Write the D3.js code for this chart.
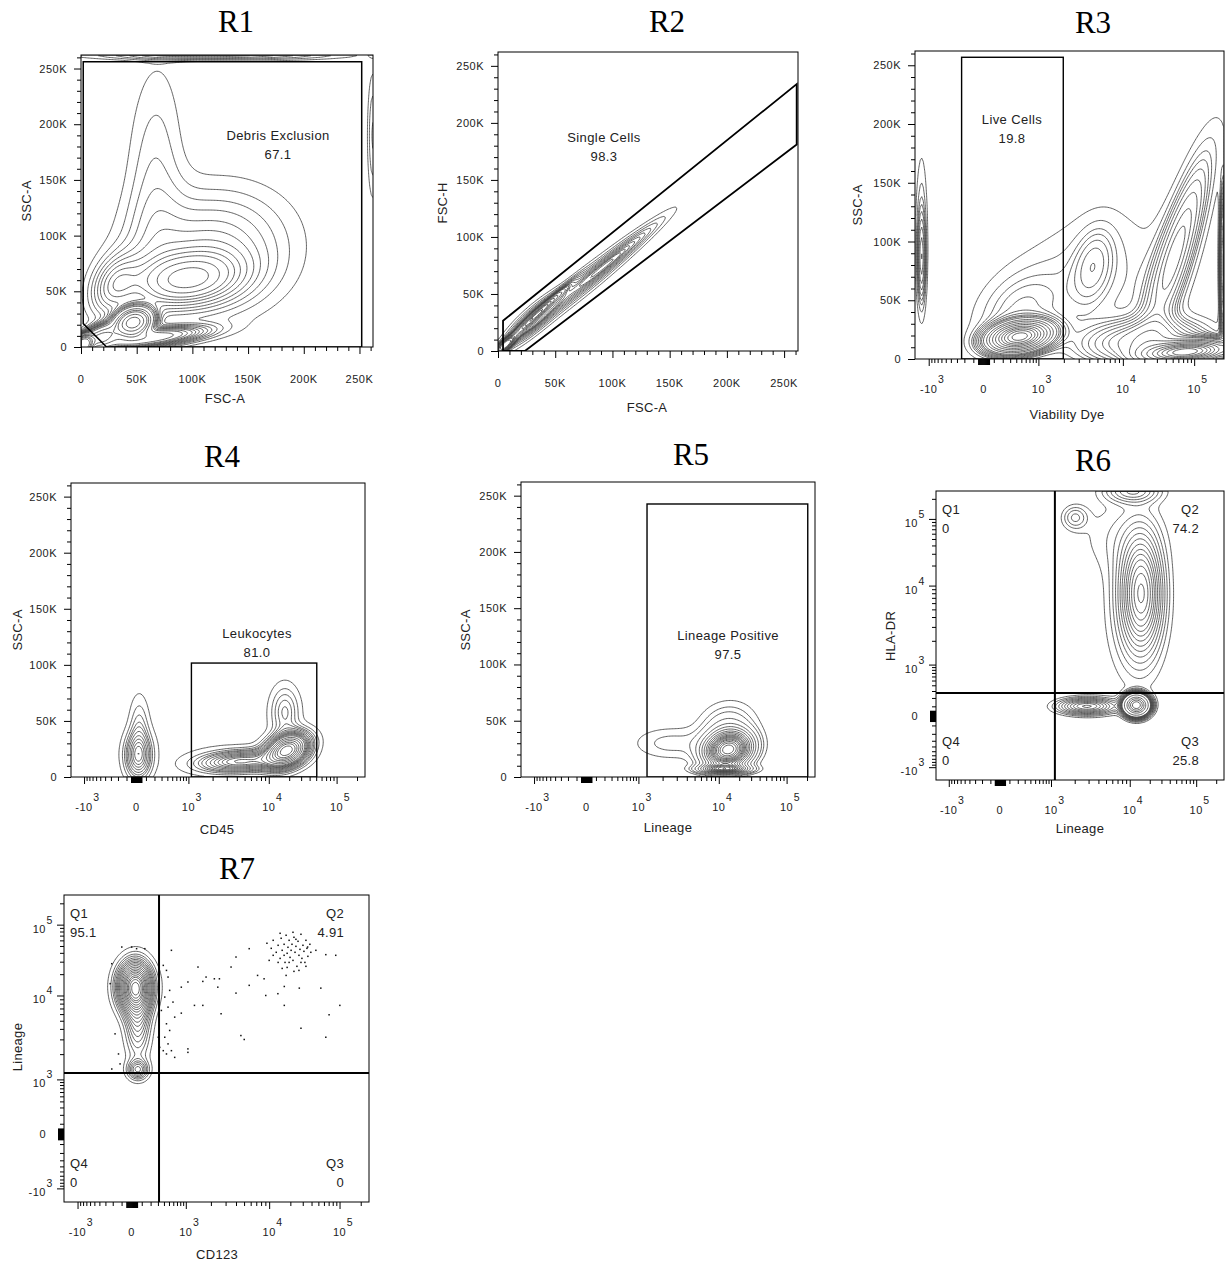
<!DOCTYPE html>
<html>
<head>
<meta charset="utf-8">
<script src="https://cdn.jsdelivr.net/npm/d3@7"></script>
<style>
  body { margin: 0; background: #fff; }
  svg { display: block; }
  text { font-family: "Liberation Sans", Arial, sans-serif; fill: #222; }
</style>
</head>
<body>
<svg id="fig" width="1225" height="1264"></svg>
<script>
// ---------- labels ----------
const panelTitles = ["R1", "R2", "R3", "R4", "R5", "R6", "R7"];
const xAxisTitles = ["FSC-A", "FSC-A", "Viability Dye", "CD45", "Lineage", "Lineage", "CD123"];
const yAxisTitles = ["SSC-A", "FSC-H", "SSC-A", "SSC-A", "SSC-A", "HLA-DR", "Lineage"];

const linearTickValues = [0, 50000, 100000, 150000, 200000, 250000];
const linearTickLabels = ["0", "50K", "100K", "150K", "200K", "250K"];
const biexTickValues = [-1000, 0, 1000, 10000, 100000];
const biexTickBases = ["-10", "0", "10", "10", "10"];
const biexTickExponents = ["3", "", "3", "4", "5"];

// ---------- populations: [x, y, spreadX, spreadY, correlation, weight] ----------
// spreads are in display units of each axis (values for linear, decades-ish for biex)
const r1Populations = [
  [47000, 22000, 9000, 7000, 0.2, 0.13],
  [2000, 2000, 4000, 4000, 0.3, 0.08],
  [18000, 9000, 11000, 7000, 0.5, 0.05],
  [60000, 8000, 30000, 6000, 0.6, 0.06],
  [95000, 60000, 32000, 16000, 0.2, 0.10],
  [30000, 55000, 14000, 18000, 0.3, 0.03],
  [115000, 85000, 48000, 38000, 0.1, 0.21],
  [66000, 150000, 18000, 75000, 0.1, 0.07],
  [120000, 262000, 70000, 3000, 0, 0.025],
  [262000, 190000, 3500, 40000, 0, 0.008]
];
const r2Populations = [
  [6000, 5000, 5000, 4500, 0.8, 0.12],
  [35000, 33000, 16000, 15000, 0.985, 0.15],
  [30000, 27000, 15000, 13900, 0.864, 0.22],
  [75000, 60000, 35000, 28900, 0.969, 0.41],
  [110000, 88000, 25000, 20500, 0.975, 0.10]
];
const r3Populations = [
  [466, 19000, 0.33, 7500, 0.25, 0.16],
  [400, 40000, 0.55, 25000, 0.3, 0.05],
  [4460, 80000, 0.25, 22000, 0.3, 0.02],
  [4460, 70000, 1.0, 45000, 0.2, 0.12],
  [78000, 6000, 0.45, 5500, 0.3, 0.16],
  [55000, 90000, 0.45, 60000, 0.85, 0.13],
  [258000, 80000, 0.04, 35000, 0, 0.035],
  [-1215, 110000, 0.08, 50000, 0, 0.012],
  [-1215, 85000, 0.05, 25000, 0, 0.008],
  [20000, 15000, 0.7, 12000, 0.2, 0.10]
];
const r4Populations = [
  [21, 19000, 0.16, 13000, 0, 0.10],
  [30, 45000, 0.12, 18000, 0, 0.03],
  [1350, 30000, 0.9, 18000, 0, 0.035],
  [18600, 24000, 0.25, 9000, 0.3, 0.36],
  [4500, 14000, 0.5, 6000, 0.2, 0.18],
  [17300, 58000, 0.18, 15000, 0, 0.06]
];
const r5Populations = [
  [13800, 24000, 0.28, 10000, 0.15, 0.55],
  [13300, 45000, 0.35, 14000, 0.1, 0.12],
  [2500, 30000, 0.5, 10000, 0, 0.07],
  [12000, 7000, 0.3, 2500, 0, 0.08]
];
const r6Populations = [
  [12600, 113, 0.13, 0.11, 0, 0.25],
  [15000, 8100, 0.25, 0.7, 0, 0.30],
  [12000, 5000, 0.4, 1.0, 0, 0.12],
  [2850, 100, 0.35, 0.1, 0, 0.05],
  [2020, 105000, 0.16, 0.15, 0, 0.01],
  [11000, 262000, 0.35, 0.15, 0, 0.04],
  [7000, 55000, 0.6, 0.5, 0, 0.05]
];
const r7Populations = [
  [31, 13300, 0.21, 0.3, 0, 0.6],
  [60, 5180, 0.16, 0.5, 0, 0.25],
  [60, 1300, 0.13, 0.12, 0, 0.05]
];

// R7 events drawn as dots outside the contours: [CD123, Lineage]
const r7Outliers = [
  [9400,54600],[10700,46300],[11400,60100],[12600,40700],[13400,51100],[14300,33400],[14800,64200],
  [15300,43400],[16300,52800],[16800,29300],[17400,70800],[18000,39400],[18500,47900],[19200,60100],
  [19800,34500],[20500,43400],[21100,52800],[21800,31300],[22500,66300],[23300,40700],[24000,49400],
  [24800,25800],[25700,58200],[26500,36900],[27400,44800],[28300,73100],[29200,33400],[30200,51100],
  [31200,42000],[32200,29300],[33300,60100],[34400,46300],[35500,35700],[37900,52800],[39100,40700],
  [16300,36900],[19200,29300],[21800,78000],[24000,62100],[28300,29300],[13400,29300],[14300,75500],
  [11400,36900],[18000,24900],[26500,22600],[22500,21900],[17400,19200],[15300,24100],[33300,25800],
  [10000,31300],
  [555,43400],[5760,45800],[4000,34900],[3490,25200],[1400,25200],[1750,18200],[2200,17200],
  [2530,17200],[1600,15800],[1060,15500],[835,13100],[2420,13100],[5760,13900],[4000,10800],
  [9100,10000],[13300,10600],[16400,13400],[26800,12700],[54200,12700],[88300,36900],[63800,37700],
  [101000,7620],[71000,5890],[28300,4070],[16400,7620],[4580,3330],[5020,2990],[63800,3180],
  [2650,6060],[1270,7620],[1600,7620],[835,6160],[1060,2310],[1060,2100],[8690,17200],[7260,19200],
  [35200,48300],[46100,43400],
  [388,26600],[448,22600],[480,18200],[515,11800],[415,9570],[593,8340],[480,7260],[637,5520],
  [448,4600],[515,3830],[415,3180],[480,2650],[555,2200],[448,2010],[637,1830],[388,2200],
  [305,3180],[328,2410],[355,6630],
  [-212,28100],[-233,14700],[-172,3490],[-212,1330],[-133,2010],[-116,1530],[-98,48300],
  [0,48300],[48,45800],[133,45800]
];

// ---------- gates ----------
const r1Gate = [[2000, 256000], [252000, 256000], [252000, 0], [23000, 0], [2000, 21000]];
const r2Gate = [[4400, 0], [4400, 26500], [261000, 234000], [261000, 181000], [23500, 0]];
const r3Gate = [[-235, 0], [1970, 256800]];
const r4Gate = [[1090, 0], [51000, 101600]];
const r5Gate = [[1280, 0], [205000, 242600]];
const r6Quadrant = [1120, 269];
const r7Quadrant = [317, 1190];

const r1GateLabel = ["Debris Exclusion", "67.1"];
const r2GateLabel = ["Single Cells", "98.3"];
const r3GateLabel = ["Live Cells", "19.8"];
const r4GateLabel = ["Leukocytes", "81.0"];
const r5GateLabel = ["Lineage Positive", "97.5"];
const quadrantNames = ["Q1", "Q2", "Q3", "Q4"];
const r6QuadrantValues = ["0", "74.2", "25.8", "0"];
const r7QuadrantValues = ["95.1", "4.91", "0", "0"];

// ---------- biexponential display transform ----------
const LIN_WIDTH = 250;
const ASINH_TOP = Math.asinh(1000 / LIN_WIDTH);
function biex(v) {
  const a = Math.abs(v);
  let d;
  if (a <= 1000) d = Math.asinh(a / LIN_WIDTH) / ASINH_TOP;
  else if (a <= 1e4) d = 1 + 1.54 * Math.log10(a / 1e3);
  else d = 2.54 + 1.30 * Math.log10(a / 1e4);
  return v < 0 ? -d : d;
}
const BIEX_MIN = -1.25;
const BIEX_MAX = biex(262144);
const LIN_MAX = 262144;

// ---------- layout ----------
const layout = [
  { box: [81, 55, 373, 347], x: "lin", y: "lin", title: [236, 32], xt: [225, 403], yt: [31, 201] },
  { box: [498, 52, 798, 351], x: "lin", y: "lin", title: [667, 32], xt: [647, 412], yt: [447, 203] },
  { box: [915, 51, 1224, 359], x: "biex", y: "lin", title: [1093, 33], xt: [1067, 419], yt: [862, 205] },
  { box: [71, 483, 365, 777], x: "biex", y: "lin", title: [222, 467], xt: [217, 834], yt: [22, 630] },
  { box: [521, 482, 815, 777], x: "biex", y: "lin", title: [691, 465], xt: [668, 832], yt: [470, 630] },
  { box: [936, 491, 1224, 780], x: "biex", y: "biex", title: [1093, 471], xt: [1080, 833], yt: [895, 636] },
  { box: [64, 895, 369, 1202], x: "biex", y: "biex", title: [237, 879], xt: [217, 1259], yt: [22, 1047] }
];
const populations = [r1Populations, r2Populations, r3Populations, r4Populations, r5Populations, r6Populations, r7Populations];

const GRID_STEP = 1.5;
const PROB_STEP = 0.05;
const CONTOUR_COLOR = "#454545";

const svg = d3.select("#fig");
const defs = svg.append("defs");

function makeScale(kind, lo, hi) {
  const s = d3.scaleLinear().range([lo, hi]);
  if (kind === "lin") { s.domain([0, LIN_MAX]); return { s, t: v => v }; }
  s.domain([BIEX_MIN, BIEX_MAX]);
  return { s, t: biex };
}

function densityGrid(pops, X, Y, box) {
  const [x0, y0, x1, y1] = box;
  const nx = Math.ceil((x1 - x0) / GRID_STEP), ny = Math.ceil((y1 - y0) / GRID_STEP);
  const comps = pops.map(([cx, cy, sx, sy, r, w]) => ({
    mx: X.t(cx), my: Y.t(cy), sx, sy, r, q: 1 - r * r, k: w / (sx * sy * Math.sqrt(1 - r * r))
  }));
  const vals = new Float64Array(nx * ny);
  for (let j = 0; j < ny; j++) {
    const v = Y.s.invert(y0 + (j + 0.5) * GRID_STEP);
    for (let i = 0; i < nx; i++) {
      const u = X.s.invert(x0 + (i + 0.5) * GRID_STEP);
      let d = 0;
      for (const c of comps) {
        const dx = (u - c.mx) / c.sx, dy = (v - c.my) / c.sy;
        const qq = (dx * dx - 2 * c.r * dx * dy + dy * dy) / c.q;
        if (qq < 60) d += c.k * Math.exp(-0.5 * qq);
      }
      vals[i + j * nx] = d;
    }
  }
  return { vals, nx, ny };
}

// contour levels that each enclose a fixed share of the events
function probabilityLevels(vals) {
  const sorted = Float64Array.from(vals).sort().reverse();
  const total = d3.sum(sorted);
  const levels = [];
  let cum = 0, idx = 0;
  for (let f = PROB_STEP; f < 1 - 1e-9; f += PROB_STEP) {
    const target = f * total;
    while (idx < sorted.length && cum < target) { cum += sorted[idx]; idx++; }
    levels.push(sorted[Math.max(0, idx - 1)]);
  }
  return Array.from(new Set(levels)).sort((a, b) => a - b);
}

function drawTicks(g, kind, scale, T, orient, box) {
  const [x0, y0, x1, y1] = box;
  const groups = [];
  if (kind === "lin") {
    const minor = d3.range(10000, 262001, 10000).filter(v => v % 50000 !== 0);
    groups.push({ vals: linearTickValues, size: 7, w: 1 });
    groups.push({ vals: minor, size: 4, w: 1 });
  } else {
    const minor = [];
    for (let k = 1; k <= 9; k++) { minor.push(k * 100, -k * 100); }
    for (let k = 2; k <= 9; k++) { minor.push(k * 1000, k * 10000); }
    minor.push(200000);
    const blob = d3.range(-50, 51, 10);
    groups.push({ vals: [-1000, 1000, 10000, 100000], size: 7, w: 1 });
    groups.push({ vals: minor, size: 4, w: 1 });
    groups.push({ vals: blob, size: 6, w: 1.6 });
  }
  for (const grp of groups) {
    const ax = (orient === "bottom" ? d3.axisBottom(scale) : d3.axisLeft(scale))
      .tickValues(grp.vals.map(T)).tickSize(grp.size).tickFormat("");
    const sel = g.append("g")
      .attr("transform", orient === "bottom" ? `translate(0,${y1})` : `translate(${x0},0)`)
      .call(ax);
    sel.select(".domain").remove();
    sel.selectAll("line").attr("stroke", "#000").attr("stroke-width", grp.w);
  }
}

function drawTickLabels(g, kind, scale, T, orient, box) {
  const [x0, y0, x1, y1] = box;
  if (kind === "lin") {
    linearTickValues.forEach((v, i) => {
      const p = scale(T(v));
      if (orient === "bottom") {
        g.append("text").attr("x", p).attr("y", y1 + 36).attr("text-anchor", "middle")
          .attr("font-size", 11).attr("letter-spacing", 0.5).text(linearTickLabels[i]);
      } else {
        g.append("text").attr("x", x0 - 14).attr("y", p + 4).attr("text-anchor", "end")
          .attr("font-size", 11).attr("letter-spacing", 0.5).text(linearTickLabels[i]);
      }
    });
    return;
  }
  biexTickValues.forEach((v, i) => {
    const p = scale(T(v));
    const base = biexTickBases[i], ex = biexTickExponents[i];
    if (orient === "bottom") {
      const t = g.append("text").attr("x", p).attr("y", y1 + 34).attr("text-anchor", "middle")
        .attr("font-size", 11).attr("letter-spacing", 0.5).text(base);
      if (ex) {
        const w = t.node().getComputedTextLength();
        g.append("text").attr("x", p + w / 2 + 0.5).attr("y", y1 + 24)
          .attr("font-size", 10.5).text(ex);
      }
    } else {
      const right = x0 - 18;
      g.append("text").attr("x", right).attr("y", p + (ex ? 8 : 4)).attr("text-anchor", "end")
        .attr("font-size", 11).attr("letter-spacing", 0.5).text(base);
      if (ex) {
        g.append("text").attr("x", right + 0.5).attr("y", p - 1)
          .attr("font-size", 10.5).text(ex);
      }
    }
  });
}

function gateLabel(g, X, Y, anchor, lines) {
  const px = X.s(X.t(anchor[0])), py = Y.s(Y.t(anchor[1]));
  const lg = g.append("g");
  const bg = lg.append("rect").attr("fill", "#fff");
  lines.forEach((s, i) => lg.append("text").attr("x", px).attr("y", py + i * 18.5)
    .attr("text-anchor", "middle").attr("font-size", 13).attr("letter-spacing", 0.4).text(s));
  const bb = lg.node().getBBox();
  bg.attr("x", bb.x - 1).attr("y", bb.y).attr("width", bb.width + 2).attr("height", bb.height + 2);
}

function quadrantLabels(g, box, values) {
  const [x0, y0, x1, y1] = box;
  const spots = [
    { x: x0 + 6, y: y0 + 23, a: "start" },
    { x: x1 - 25, y: y0 + 23, a: "end" },
    { x: x1 - 25, y: y1 - 34, a: "end" },
    { x: x0 + 6, y: y1 - 34, a: "start" }
  ];
  spots.forEach((s, i) => {
    g.append("text").attr("x", s.x).attr("y", s.y).attr("text-anchor", s.a)
      .attr("font-size", 13).attr("letter-spacing", 0.3).text(quadrantNames[i]);
    g.append("text").attr("x", s.x).attr("y", s.y + 18.5).attr("text-anchor", s.a)
      .attr("font-size", 13).attr("letter-spacing", 0.3).text(values[i]);
  });
}

const gateLabelAnchors = [[176900, 185800], [92600, 183200], [328, 200000], [7140, 123900], [13700, 121700]];
const gateLabels = [r1GateLabel, r2GateLabel, r3GateLabel, r4GateLabel, r5GateLabel];

layout.forEach((L, idx) => {
  const [x0, y0, x1, y1] = L.box;
  const X = makeScale(L.x, x0, x1);
  const Y = makeScale(L.y, y1, y0);
  const g = svg.append("g");

  // title
  g.append("text").attr("x", L.title[0]).attr("y", L.title[1]).attr("text-anchor", "middle")
    .style("font-family", "'Liberation Serif', 'Times New Roman', serif")
    .attr("font-size", 31).style("fill", "#000").text(panelTitles[idx]);

  // probability contours
  const clipId = "clip" + idx;
  defs.append("clipPath").attr("id", clipId).append("rect")
    .attr("x", x0).attr("y", y0).attr("width", x1 - x0).attr("height", y1 - y0);
  const grid = densityGrid(populations[idx], X, Y, L.box);
  const levels = probabilityLevels(grid.vals);
  const contours = d3.contours().size([grid.nx, grid.ny]).thresholds(levels)(grid.vals);
  const path = d3.geoPath(d3.geoIdentity().scale(GRID_STEP).translate([x0, y0]));
  g.append("g").attr("clip-path", `url(#${clipId})`)
    .selectAll("path").data(contours).join("path")
    .attr("d", path).attr("fill", "none")
    .attr("stroke", CONTOUR_COLOR).attr("stroke-width", 0.85).attr("stroke-linejoin", "round");

  // outlier events
  if (idx === 6) {
    g.append("g").attr("clip-path", `url(#${clipId})`)
      .selectAll("rect").data(r7Outliers).join("rect")
      .attr("x", d => X.s(X.t(d[0])) - 0.75).attr("y", d => Y.s(Y.t(d[1])) - 0.75)
      .attr("width", 1.5).attr("height", 1.5).attr("fill", "#111");
  }

  // frame
  g.append("rect").attr("x", x0).attr("y", y0).attr("width", x1 - x0).attr("height", y1 - y0)
    .attr("fill", "none").attr("stroke", "#000").attr("stroke-width", 1);

  // axes
  drawTicks(g, L.x, X.s, X.t, "bottom", L.box);
  drawTicks(g, L.y, Y.s, Y.t, "left", L.box);
  drawTickLabels(g, L.x, X.s, X.t, "bottom", L.box);
  drawTickLabels(g, L.y, Y.s, Y.t, "left", L.box);

  g.append("text").attr("x", L.xt[0]).attr("y", L.xt[1]).attr("text-anchor", "middle")
    .attr("font-size", 13).attr("letter-spacing", 0.3).text(xAxisTitles[idx]);
  g.append("text").attr("transform", `translate(${L.yt[0]},${L.yt[1]}) rotate(-90)`)
    .attr("text-anchor", "middle").attr("font-size", 13).attr("letter-spacing", 0.3).text(yAxisTitles[idx]);

  // gates
  const gate = g.append("g").attr("clip-path", `url(#${clipId})`);
  const line = d3.line().x(d => X.s(X.t(d[0]))).y(d => Y.s(Y.t(d[1])));
  if (idx === 0 || idx === 1) {
    const pts = idx === 0 ? r1Gate : r2Gate;
    gate.append("path").attr("d", line(pts) + "Z").attr("fill", "none")
      .attr("stroke", "#000").attr("stroke-width", idx === 0 ? 1.5 : 1.8);
  } else if (idx >= 2 && idx <= 4) {
    const r = [r3Gate, r4Gate, r5Gate][idx - 2];
    const gx0 = X.s(X.t(r[0][0])), gx1 = X.s(X.t(r[1][0]));
    const gy0 = Y.s(Y.t(r[1][1])), gy1 = Y.s(Y.t(r[0][1]));
    gate.append("rect").attr("x", gx0).attr("y", gy0).attr("width", gx1 - gx0).attr("height", gy1 - gy0)
      .attr("fill", "none").attr("stroke", "#000").attr("stroke-width", 1.4);
  } else {
    const q = idx === 5 ? r6Quadrant : r7Quadrant;
    const qx = X.s(X.t(q[0])), qy = Y.s(Y.t(q[1]));
    gate.append("line").attr("x1", qx).attr("x2", qx).attr("y1", y0).attr("y2", y1)
      .attr("stroke", "#000").attr("stroke-width", 2);
    gate.append("line").attr("x1", x0).attr("x2", x1).attr("y1", qy).attr("y2", qy)
      .attr("stroke", "#000").attr("stroke-width", 2);
  }

  if (idx <= 4) gateLabel(g, X, Y, gateLabelAnchors[idx], gateLabels[idx]);
  else quadrantLabels(g, L.box, idx === 5 ? r6QuadrantValues : r7QuadrantValues);
});
</script>
</body>
</html>
